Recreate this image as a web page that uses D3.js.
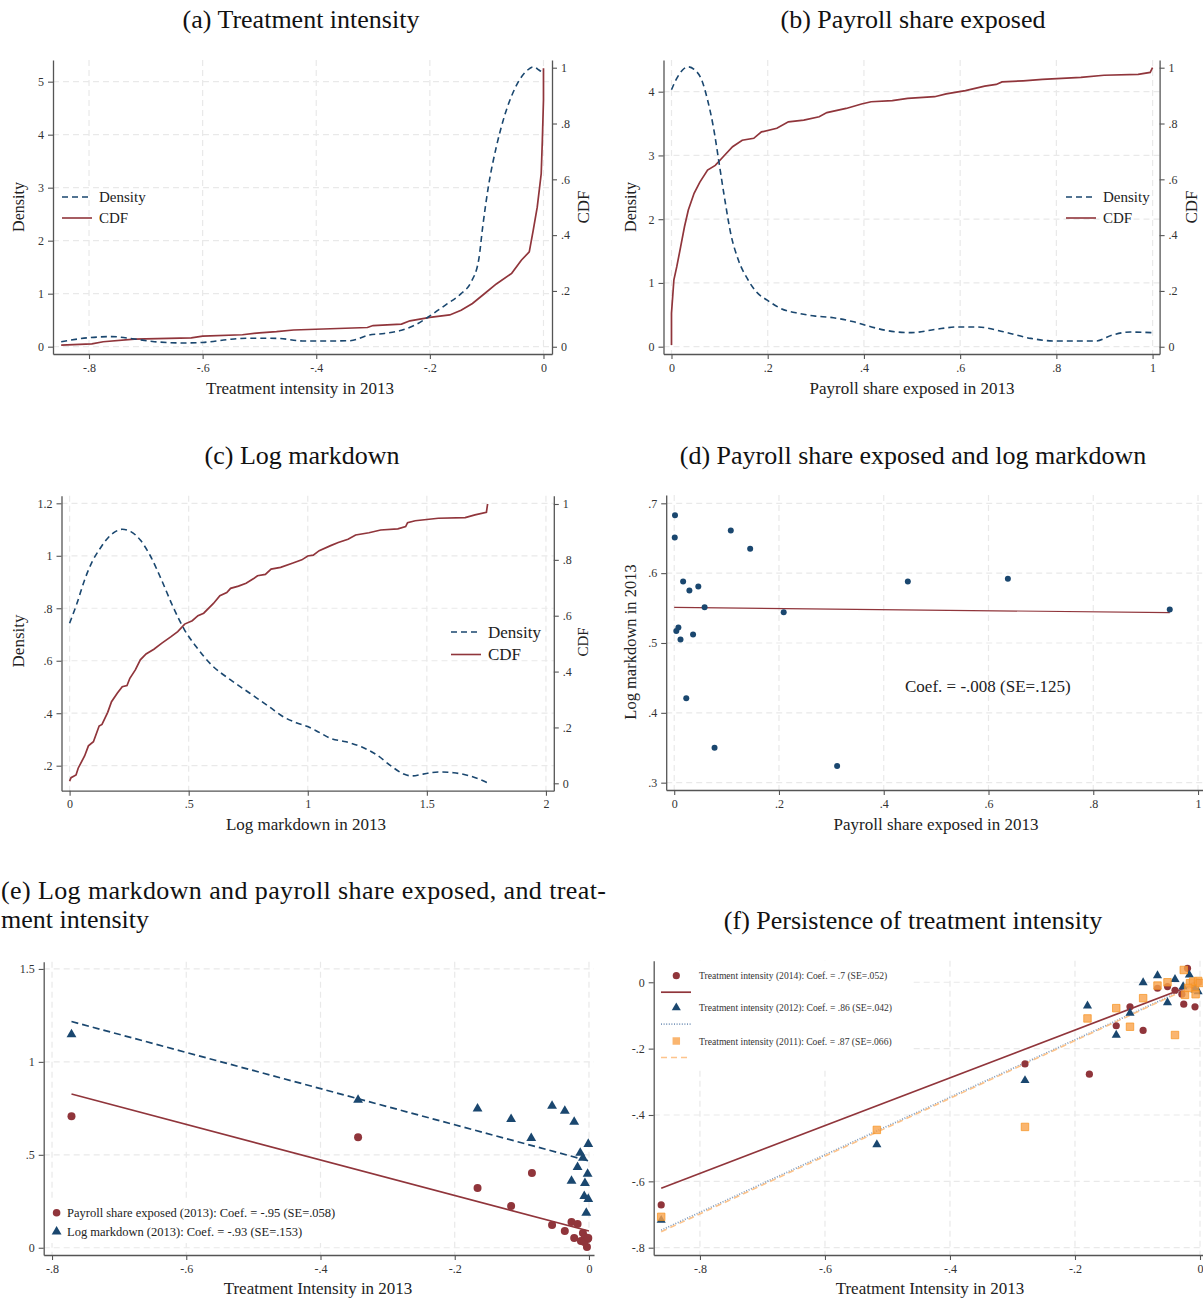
<!DOCTYPE html>
<html>
<head>
<meta charset="utf-8">
<script src="https://cdn.jsdelivr.net/npm/d3@7"></script>
<style>
  body { margin: 0; background: #fff; }
  svg text { font-family: "Liberation Serif", "Times New Roman", serif; }
</style>
</head>
<body>
<svg id="chart" width="1203" height="1300"></svg>
<script>
// ---- data ----
// (a) treatment intensity: kernel density and cdf
var densA = [[-0.849,0.094],[-0.80,0.17],[-0.76,0.19],[-0.72,0.145],[-0.685,0.094],[-0.632,0.07],[-0.6,0.08],
  [-0.55,0.14],[-0.52,0.16],[-0.47,0.157],[-0.42,0.107],[-0.38,0.107],[-0.34,0.113],[-0.307,0.22],[-0.28,0.25],
  [-0.25,0.31],[-0.226,0.41],[-0.2,0.58],[-0.172,0.79],[-0.145,1.0],[-0.128,1.21],[-0.114,1.64],[-0.107,2.26],
  [-0.097,3.02],[-0.083,3.77],[-0.069,4.34],[-0.049,4.9],[-0.028,5.22],[-0.018,5.28],[-0.008,5.22],[0,5.16]];
var cdfA = [[-0.849,0.006],[-0.795,0.01],[-0.775,0.018],[-0.72,0.027],[-0.62,0.032],[-0.6,0.038],[-0.53,0.043],
  [-0.5,0.05],[-0.47,0.054],[-0.44,0.06],[-0.31,0.069],[-0.3,0.076],[-0.25,0.081],[-0.235,0.093],[-0.2,0.105],
  [-0.165,0.114],[-0.145,0.131],[-0.125,0.155],[-0.104,0.19],[-0.083,0.225],[-0.056,0.263],[-0.039,0.31],
  [-0.025,0.34],[-0.018,0.418],[-0.011,0.5],[-0.004,0.62],[-0.002,0.74],[0,0.884],[0,0.998]];

// (b) payroll share exposed
var densB = [[0,4.03],[0.011,4.21],[0.023,4.34],[0.035,4.39],[0.047,4.35],[0.063,4.18],[0.075,3.87],[0.087,3.45],
  [0.099,2.88],[0.111,2.3],[0.123,1.78],[0.139,1.36],[0.159,1.05],[0.179,0.84],[0.199,0.73],[0.227,0.6],
  [0.267,0.52],[0.299,0.48],[0.331,0.46],[0.379,0.39],[0.411,0.32],[0.443,0.26],[0.499,0.22],[0.547,0.27],
  [0.595,0.31],[0.635,0.31],[0.69,0.235],[0.747,0.13],[0.795,0.09],[0.843,0.09],[0.883,0.09],[0.915,0.18],
  [0.954,0.23],[1.0,0.22]];
var cdfB = [[0,0.006],[0,0.12],[0.005,0.24],[0.011,0.287],[0.019,0.358],[0.027,0.43],[0.035,0.49],[0.047,0.55],
  [0.059,0.59],[0.075,0.633],[0.091,0.65],[0.107,0.68],[0.127,0.717],[0.147,0.74],[0.171,0.747],[0.187,0.77],
  [0.219,0.783],[0.243,0.806],[0.275,0.812],[0.307,0.824],[0.323,0.839],[0.363,0.854],[0.395,0.87],
  [0.415,0.878],[0.459,0.882],[0.491,0.89],[0.547,0.896],[0.571,0.906],[0.611,0.918],[0.651,0.934],
  [0.675,0.94],[0.687,0.949],[0.731,0.953],[0.771,0.958],[0.851,0.965],[0.899,0.973],[0.97,0.976],
  [0.995,0.983],[1,1.0]];

// (c) log markdown
var densC = [[0,0.743],[0.031,0.819],[0.063,0.908],[0.095,0.978],[0.128,1.028],[0.16,1.067],[0.192,1.092],
  [0.221,1.101],[0.257,1.092],[0.297,1.06],[0.337,1.003],[0.386,0.908],[0.434,0.806],[0.483,0.717],
  [0.531,0.654],[0.596,0.584],[0.676,0.527],[0.757,0.476],[0.838,0.425],[0.902,0.384],[0.951,0.364],
  [1.0,0.349],[1.048,0.327],[1.096,0.304],[1.161,0.291],[1.225,0.272],[1.29,0.241],[1.354,0.196],
  [1.403,0.168],[1.435,0.161],[1.484,0.168],[1.548,0.176],[1.613,0.173],[1.677,0.162],[1.755,0.135]];
var cdfC = [[0,0.008],[0.006,0.02],[0.027,0.03],[0.036,0.054],[0.063,0.098],[0.079,0.134],[0.1,0.149],
  [0.124,0.205],[0.136,0.211],[0.16,0.254],[0.176,0.292],[0.2,0.322],[0.221,0.346],[0.241,0.35],
  [0.253,0.376],[0.276,0.406],[0.297,0.442],[0.321,0.463],[0.354,0.48],[0.386,0.501],[0.426,0.525],
  [0.454,0.543],[0.483,0.57],[0.515,0.582],[0.539,0.6],[0.563,0.609],[0.604,0.644],[0.631,0.672],
  [0.66,0.683],[0.676,0.698],[0.709,0.706],[0.741,0.716],[0.773,0.733],[0.789,0.743],[0.822,0.748],
  [0.846,0.767],[0.886,0.773],[0.935,0.788],[0.975,0.8],[1.0,0.814],[1.023,0.817],[1.048,0.833],
  [1.096,0.851],[1.128,0.862],[1.169,0.874],[1.201,0.889],[1.257,0.897],[1.306,0.907],[1.378,0.911],
  [1.411,0.919],[1.419,0.933],[1.451,0.94],[1.548,0.949],[1.661,0.951],[1.702,0.961],[1.75,0.97],[1.755,1.0]];

// (d) payroll share vs log markdown
var shareD = [0.0015,0.001,0.108,0.145,0.017,0.029,0.046,0.058,0.004,0.008,0.012,0.036,0.023,0.077,0.209,0.311,0.446,0.637,0.946];
var markD  = [0.683,0.651,0.661,0.635,0.588,0.575,0.581,0.551,0.517,0.522,0.505,0.512,0.421,0.35,0.544,0.324,0.588,0.592,0.548];
var fitD = {a: 0.551, b: -0.008, from: 0, to: 0.946};

// (e) treatment intensity vs payroll share (red) and log markdown (blue)
var treatE1 = [-0.771,-0.344,-0.166,-0.116,-0.085,-0.055,-0.036,-0.026,-0.017,-0.022,-0.009,-0.006,-0.002,-0.012,-0.007,-0.003,-0.001];
var shareE  = [0.707,0.594,0.321,0.224,0.402,0.122,0.09,0.138,0.128,0.052,0.079,0.058,0.047,0.036,0.031,0.004,0.052];
var treatE2 = [-0.771,-0.344,-0.166,-0.116,-0.055,-0.036,-0.022,-0.086,-0.001,-0.013,-0.009,-0.017,-0.002,-0.026,-0.006,-0.007,-0.001,-0.004];
var markE   = [1.148,0.795,0.748,0.692,0.763,0.736,0.677,0.59,0.558,0.51,0.483,0.434,0.397,0.359,0.348,0.278,0.262,0.187];
var fitE = [{a: 0.09, b: -0.956, from: -0.771, to: 0}, {a: 0.467, b: -0.973, from: -0.771, to: 0}];

// (f) persistence of treatment intensity
var treatF14 = [-0.862,-0.28,-0.177,-0.134,-0.112,-0.091,-0.068,-0.052,-0.04,-0.026,-0.02,-0.008,-0.029,-0.01,-0.003];
var valF14   = [-0.671,-0.246,-0.277,-0.131,-0.074,-0.145,-0.018,-0.013,-0.024,-0.066,0.042,-0.074,-0.036,-0.01,0.0];
var treatF12 = [-0.862,-0.517,-0.28,-0.18,-0.134,-0.112,-0.091,-0.068,-0.052,-0.04,-0.027,-0.017,-0.008,-0.003];
var valF12   = [-0.717,-0.489,-0.296,-0.071,-0.159,-0.093,-0.001,0.02,-0.061,0.009,-0.013,0.022,-0.023,-0.028];
var treatF11 = [-0.862,-0.517,-0.28,-0.18,-0.134,-0.112,-0.091,-0.068,-0.052,-0.04,-0.026,-0.024,-0.008,-0.007,-0.016,-0.011,-0.003,-0.019,0];
var valF11   = [-0.707,-0.445,-0.436,-0.109,-0.078,-0.134,-0.048,-0.01,0.0,-0.159,0.037,-0.038,-0.018,-0.036,-0.003,0.002,0.004,-0.017,-0.002];
var fitF = [{a: 0.0, b: 0.72, from: -0.862, to: 0.003}, {a: 0.0, b: 0.867, from: -0.862, to: 0.003}, {a: -0.002, b: 0.87, from: -0.862, to: 0.003}];

var legendF = ["Treatment intensity (2014): Coef. = .7 (SE=.052)",
               "Treatment intensity (2012): Coef. = .86 (SE=.042)",
               "Treatment intensity (2011): Coef. = .87 (SE=.066)"];
var legendE = ["Payroll share exposed (2013): Coef. = -.95 (SE=.058)",
               "Log markdown (2013): Coef. = -.93 (SE=.153)"];

var RED = "#90353b", BLUE = "#1a476f", ORANGE = "#f9a24b";
var svg = d3.select("#chart");

function fmt(v) {
  var s = String(Math.round(v * 100) / 100);
  return s.replace(/^(-?)0\./, "$1.");
}

// one panel: plot box, grid, axes
function panel(c) {
  var g = svg.append("g");
  var x = d3.scaleLinear().domain(c.xDom).range([c.left, c.right]);
  var y = d3.scaleLinear().domain(c.yDom).range([c.bottom, c.top]);
  var gridX = c.gridRight || c.right;

  g.selectAll(".gx").data(c.xTicks).enter().append("line")
    .attr("x1", d => x(d)).attr("x2", d => x(d))
    .attr("y1", c.top).attr("y2", c.bottom)
    .attr("stroke", "#e9e9e9").attr("stroke-width", 1.2).attr("stroke-dasharray", "6,4");
  g.selectAll(".gy").data(c.yTicks).enter().append("line")
    .attr("x1", c.left).attr("x2", gridX)
    .attr("y1", d => y(d)).attr("y2", d => y(d))
    .attr("stroke", "#e9e9e9").attr("stroke-width", 1.2).attr("stroke-dasharray", "6,4");

  if (c.blank) {
    g.append("rect").attr("x", c.blank[0]).attr("y", c.blank[1])
      .attr("width", c.blank[2]).attr("height", c.blank[3]).attr("fill", "#fff");
  }

  var ax = g.append("g").attr("transform", "translate(0," + c.bottom + ")")
    .call(d3.axisBottom(x).tickValues(c.xTicks).tickFormat(fmt).tickSize(5).tickSizeOuter(0).tickPadding(4));
  var ay = g.append("g").attr("transform", "translate(" + c.left + ",0)")
    .call(d3.axisLeft(y).tickValues(c.yTicks).tickFormat(fmt).tickSize(5).tickSizeOuter(0).tickPadding(4));
  var axes = [ax, ay];
  var y2 = null;
  if (c.y2Dom) {
    y2 = d3.scaleLinear().domain(c.y2Dom).range([c.bottom, c.top]);
    var ar = g.append("g").attr("transform", "translate(" + c.right + ",0)")
      .call(d3.axisRight(y2).tickValues([0, 0.2, 0.4, 0.6, 0.8, 1]).tickFormat(fmt).tickSize(5).tickSizeOuter(0).tickPadding(4));
    axes.push(ar);
  }
  axes.forEach(function(a) {
    a.select(".domain").attr("stroke", "#555").attr("stroke-width", 1.3);
    a.selectAll(".tick line").attr("stroke", "#555").attr("stroke-width", 1.1);
    a.selectAll(".tick text").attr("fill", "#333").style("font-size", "12px")
      .style("font-family", "'Liberation Serif', serif");
  });
  return {g: g, x: x, y: y, y2: y2};
}

function title(txt, x, y, anchor, len) {
  var t = svg.append("text").attr("x", x).attr("y", y).attr("text-anchor", anchor || "middle")
    .attr("fill", "#111").style("font-size", "26px").text(txt);
  if (len) t.attr("textLength", len).attr("lengthAdjust", "spacing");
}
function label(txt, x, y, size, rot) {
  var t = svg.append("text").attr("text-anchor", "middle").attr("fill", "#222")
    .style("font-size", size + "px").text(txt);
  if (rot) t.attr("transform", "translate(" + x + "," + y + ") rotate(-90)");
  else t.attr("x", x).attr("y", y);
}

function pathOf(p, data, yScale, curve) {
  return d3.line().x(d => p.x(d[0])).y(d => yScale(d[1])).curve(curve || d3.curveLinear)(data);
}

function densityPanel(p, dens, cdf) {
  p.g.append("path").attr("d", pathOf(p, cdf, p.y2))
    .attr("fill", "none").attr("stroke", RED).attr("stroke-width", 1.7);
  p.g.append("path").attr("d", pathOf(p, dens, p.y, d3.curveMonotoneX))
    .attr("fill", "none").attr("stroke", BLUE).attr("stroke-width", 1.6).attr("stroke-dasharray", "6,4");
}

function dcLegend(x0, y0, gap, size) {
  var items = [["Density", BLUE, "6,4"], ["CDF", RED, null]];
  items.forEach(function(it, i) {
    var yy = y0 + i * gap;
    svg.append("line").attr("x1", x0).attr("x2", x0 + 30).attr("y1", yy).attr("y2", yy)
      .attr("stroke", it[1]).attr("stroke-width", 1.6).attr("stroke-dasharray", it[2]);
    svg.append("text").attr("x", x0 + 37).attr("y", yy + size * 0.33).attr("fill", "#222")
      .style("font-size", size + "px").text(it[0]);
  });
}

// ---- (a) ----
var pa = panel({left: 53, right: 552, top: 60, bottom: 354,
  xDom: [-0.8634, 0.015], yDom: [-0.138, 5.409], y2Dom: [-0.026, 1.0276],
  xTicks: [-0.8, -0.6, -0.4, -0.2, 0], yTicks: [0, 1, 2, 3, 4, 5]});
densityPanel(pa, densA, cdfA);
dcLegend(62, 197, 21, 15);
title("(a) Treatment intensity", 301, 28);
label("Treatment intensity in 2013", 300, 394, 17);
label("Density", 24, 207, 16, true);
label("CDF", 589, 207, 17, true);

// ---- (b) ----
var pb = panel({left: 663.5, right: 1159.6, top: 60, bottom: 354,
  xDom: [-0.0166, 1.0146], yDom: [-0.1145, 4.497], y2Dom: [-0.026, 1.0276],
  xTicks: [0, 0.2, 0.4, 0.6, 0.8, 1], yTicks: [0, 1, 2, 3, 4]});
densityPanel(pb, densB, cdfB);
dcLegend(1066, 197, 21, 15);
title("(b) Payroll share exposed", 913, 28);
label("Payroll share exposed in 2013", 912, 394, 17);
label("Density", 636, 207, 16, true);
label("CDF", 1197, 207, 17, true);

// ---- (c) ----
var pc = panel({left: 61.5, right: 553.8, top: 495.7, bottom: 790.7,
  xDom: [-0.034, 2.033], yDom: [0.1047, 1.229], y2Dom: [-0.0265, 1.0297],
  xTicks: [0, 0.5, 1, 1.5, 2], yTicks: [0.2, 0.4, 0.6, 0.8, 1, 1.2]});
densityPanel(pc, densC, cdfC);
dcLegend(451, 632, 22.5, 17);
title("(c) Log markdown", 302, 464);
label("Log markdown in 2013", 306, 830, 17);
label("Density", 24, 641, 17, true);
label("CDF", 588, 642, 15, true);

// ---- (d) ----
var pd = panel({left: 666.2, right: 1203, top: 495, bottom: 790,
  xDom: [-0.0153, 1.0095], yDom: [0.2895, 0.7119],
  xTicks: [0, 0.2, 0.4, 0.6, 0.8, 1], yTicks: [0.3, 0.4, 0.5, 0.6, 0.7]});
pd.g.append("line").attr("x1", pd.x(fitD.from)).attr("x2", pd.x(fitD.to))
  .attr("y1", pd.y(fitD.a + fitD.b * fitD.from)).attr("y2", pd.y(fitD.a + fitD.b * fitD.to))
  .attr("stroke", RED).attr("stroke-width", 1.2);
pd.g.selectAll(".pt").data(shareD).enter().append("circle")
  .attr("cx", d => pd.x(d)).attr("cy", (d, i) => pd.y(markD[i])).attr("r", 3)
  .attr("fill", BLUE);
svg.append("text").attr("x", 905).attr("y", 692).attr("fill", "#222").style("font-size", "17px")
  .text("Coef. = -.008 (SE=.125)");
title("(d) Payroll share exposed and log markdown", 913, 464);
label("Payroll share exposed in 2013", 936, 830, 17);
label("Log markdown in 2013", 636, 642, 16.5, true);

// ---- (e) ----
var pe = panel({left: 43.7, right: 594, top: 961.7, bottom: 1255,
  xDom: [-0.8124, 0.0075], yDom: [-0.039, 1.539],
  xTicks: [-0.8, -0.6, -0.4, -0.2, 0], yTicks: [0, 0.5, 1, 1.5],
  blank: [45, 1201, 318, 42]});
pe.g.append("line").attr("x1", pe.x(fitE[1].from)).attr("x2", pe.x(fitE[1].to))
  .attr("y1", pe.y(fitE[1].a + fitE[1].b * fitE[1].from)).attr("y2", pe.y(fitE[1].a + fitE[1].b * fitE[1].to))
  .attr("stroke", BLUE).attr("stroke-width", 1.7).attr("stroke-dasharray", "7,4");
pe.g.append("line").attr("x1", pe.x(fitE[0].from)).attr("x2", pe.x(fitE[0].to))
  .attr("y1", pe.y(fitE[0].a + fitE[0].b * fitE[0].from)).attr("y2", pe.y(fitE[0].a + fitE[0].b * fitE[0].to))
  .attr("stroke", RED).attr("stroke-width", 1.6);
var triE = d3.symbol().type(d3.symbolTriangle).size(42);
pe.g.selectAll(".tri").data(treatE2).enter().append("path").attr("d", triE)
  .attr("transform", (d, i) => "translate(" + pe.x(d) + "," + pe.y(markE[i]) + ")").attr("fill", BLUE);
pe.g.selectAll(".cir").data(treatE1).enter().append("circle")
  .attr("cx", d => pe.x(d)).attr("cy", (d, i) => pe.y(shareE[i])).attr("r", 4).attr("fill", RED);
svg.append("circle").attr("cx", 56.6).attr("cy", 1212.7).attr("r", 3.8).attr("fill", RED);
svg.append("path").attr("d", triE).attr("transform", "translate(56.6,1231.7)").attr("fill", BLUE);
legendE.forEach(function(t, i) {
  svg.append("text").attr("x", 67).attr("y", 1217 + i * 19).attr("fill", "#222")
    .style("font-size", "12.5px").text(t);
});
title("(e) Log markdown and payroll share exposed, and treat-", 1, 899, "start", 605);
title("ment intensity", 1, 928, "start");
label("Treatment Intensity in 2013", 318, 1294, 17);

// ---- (f) ----
var pf = panel({left: 653.7, right: 1203, top: 960.7, bottom: 1255,
  xDom: [-0.874, 0.0048], yDom: [-0.822, 0.065],
  xTicks: [-0.8, -0.6, -0.4, -0.2, 0], yTicks: [-0.8, -0.6, -0.4, -0.2, 0],
  blank: [655, 961, 255, 108]});
var fitStyles = [[RED, null, 1.7], ["#7f9bbd", "1,1.6", 1.8], ["#fdc48c", "6,4", 1.6]];
fitF.forEach(function(f, i) {
  pf.g.append("line").attr("x1", pf.x(f.from)).attr("x2", pf.x(f.to))
    .attr("y1", pf.y(f.a + f.b * f.from)).attr("y2", pf.y(f.a + f.b * f.to))
    .attr("stroke", fitStyles[i][0]).attr("stroke-dasharray", fitStyles[i][1])
    .attr("stroke-width", fitStyles[i][2]);
});
var triF = d3.symbol().type(d3.symbolTriangle).size(36);
var sqF = d3.symbol().type(d3.symbolSquare).size(56);
pf.g.selectAll(".cir").data(treatF14).enter().append("circle")
  .attr("cx", d => pf.x(d)).attr("cy", (d, i) => pf.y(valF14[i])).attr("r", 3.6).attr("fill", RED);
pf.g.selectAll(".tri").data(treatF12).enter().append("path").attr("d", triF)
  .attr("transform", (d, i) => "translate(" + pf.x(d) + "," + pf.y(valF12[i]) + ")").attr("fill", BLUE);
pf.g.selectAll(".sq").data(treatF11).enter().append("path").attr("d", sqF)
  .attr("transform", (d, i) => "translate(" + pf.x(d) + "," + pf.y(valF11[i]) + ")")
  .attr("fill", ORANGE).attr("fill-opacity", 0.8).attr("stroke", "#f7931e").attr("stroke-opacity", 0.7);

// legend (f)
var lgY = [975.7, 1007.7, 1041];
svg.append("circle").attr("cx", 676.3).attr("cy", lgY[0]).attr("r", 3.6).attr("fill", RED);
svg.append("path").attr("d", triF).attr("transform", "translate(676.3," + lgY[1] + ")").attr("fill", BLUE);
svg.append("path").attr("d", sqF).attr("transform", "translate(676.3," + lgY[2] + ")")
  .attr("fill", ORANGE).attr("fill-opacity", 0.8);
legendF.forEach(function(t, i) {
  svg.append("text").attr("x", 699).attr("y", lgY[i] + 3.5).attr("fill", "#333")
    .style("font-size", "9.6px").text(t);
  svg.append("line").attr("x1", 661).attr("x2", 691).attr("y1", lgY[i] + 16.5).attr("y2", lgY[i] + 16.5)
    .attr("stroke", fitStyles[i][0]).attr("stroke-dasharray", fitStyles[i][1]).attr("stroke-width", fitStyles[i][2]);
});
title("(f) Persistence of treatment intensity", 913, 929);
label("Treatment Intensity in 2013", 930, 1294, 17);
</script>
</body>
</html>
